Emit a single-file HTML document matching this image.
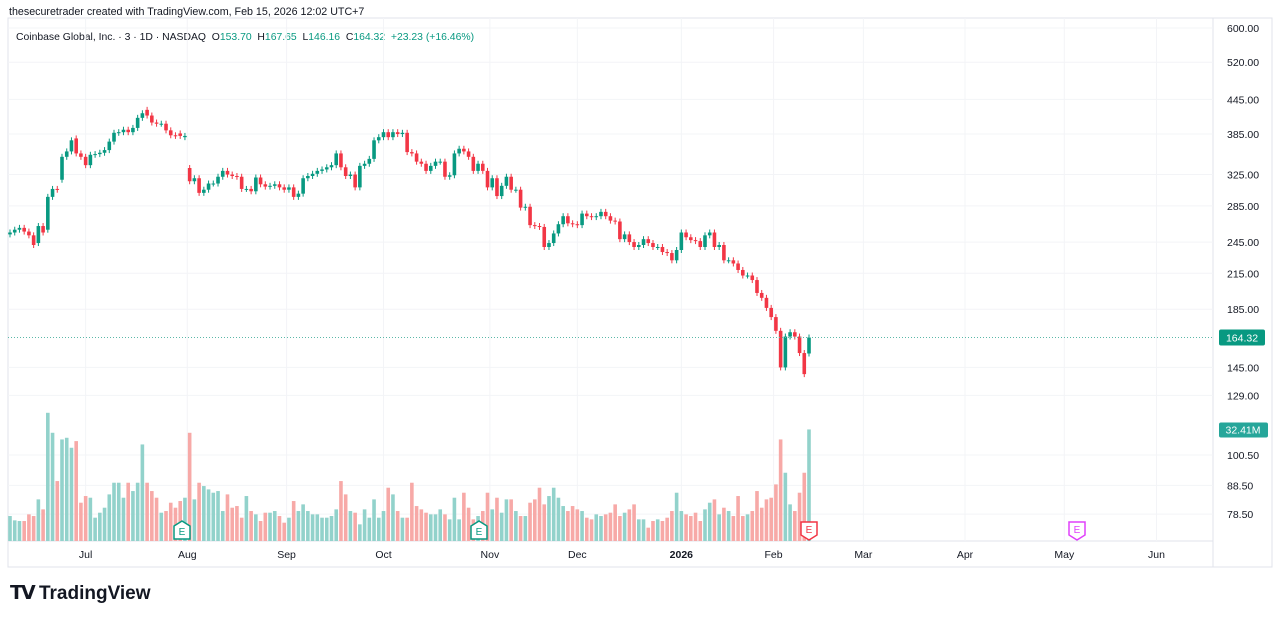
<!DOCTYPE html>
<html><head><meta charset="utf-8"><style>
body{margin:0;background:#fff;font-family:"Liberation Sans",sans-serif;}
#wrap{position:relative;width:1280px;height:620px;overflow:hidden;background:#fff}
.t{position:absolute;white-space:nowrap}
</style></head><body>
<div id="wrap">
<div class="t" style="left:9px;top:6px;font-size:10.7px;color:#131722">thesecuretrader created with TradingView.com, Feb 15, 2026 12:02 UTC+7</div>
<div class="t" style="left:16px;top:32px;font-size:10.4px;color:#131722">Coinbase Global, Inc. · 3 · 1D · NASDAQ&nbsp; O<span style="color:#089981">153.70</span>&nbsp; H<span style="color:#089981">167.65</span>&nbsp; L<span style="color:#089981">146.16</span>&nbsp; C<span style="color:#089981">164.32&nbsp; +23.23 (+16.46%)</span></div>
<svg id="svg" width="1280" height="620" style="position:absolute;left:0;top:0;z-index:-0"></svg>
<div class="t" style="left:10px;top:582px;font-size:19px;font-weight:bold;color:#131722"><span style="letter-spacing:-2px">𝗧𝗩</span> TradingView</div>
</div>
<script>
const closes=[255,258,260,256,252,242,262,255,296,306,305,350,358,375,355,350,338,353,354,356,360,373,387,388,392,388,395,412,420,416,404,402,402,391,383,382,382,382,
316,320,301,305,313,313,322,330,325,323,322,306,306,303,321,312,309,310,312,308,305,308,296,300,320,323,
326,330,332,335,338,
355,335,323,325,308,337,340,347,375,380,388,380,388,
385,387,357,355,343,340,330,337,343,343,322,324,355,362,358,350,330,340,330,308,320,297,310,322,305,305,283,284,263,262,261,240,244,254,264,273,265,264,263,276,273,272,273,278,273,268,267,248,253,245,240,242,248,244,240,240,235,234,227,237,255,250,247,246,240,252,255,240,242,227,227,224,218,213,213,209,198,194,186,179,169,145,165,168,165,154,141,164.32];
const opens=[253,255,258,260,256,252,244,262,258,296,306,318,350,358,378,355,350,338,353,354,356,360,373,387,388,392,388,395,412,426,416,404,402,402,391,383,386,380,
334,316,320,301,305,313,313,322,330,325,323,322,306,306,303,321,312,309,310,312,308,305,308,296,300,320,
323,326,330,332,335,
338,355,335,323,325,308,337,340,347,375,380,388,380,
388,385,387,357,355,343,340,330,337,343,343,322,324,355,362,358,350,330,340,330,308,320,297,310,322,305,305,283,284,263,262,261,240,244,254,264,273,265,264,263,276,273,272,273,278,273,268,267,248,253,245,240,242,248,244,240,240,235,234,227,237,255,250,247,246,240,252,255,240,242,227,227,224,218,213,213,209,198,194,186,179,169,145,165,168,165,154,153.7];
const volumes=[7.5,6.2,6,6,8,7.5,12.5,9.5,38.5,32.5,18,30.5,31,28,30,11.5,13.5,13,7,8.5,10,14,17.5,17.5,13,17.5,15,17.5,29,17.5,15,13,8.5,9,11.5,10,12,13,32.5,12.5,17.5,16.5,15.5,14.5,15,9,14,10,10.5,7,13.5,9,8,6,8.5,8.5,9,7.5,5.5,7,12,9,11,9,8,8,7,7,7.5,9.5,18,14,9,8.5,5,9.5,7,12.5,7,9,16,14,9,
7,7,17.5,10.5,9.5,8.5,8,8,9.5,8,6.5,13,6.5,14.5,10,6.5,7.5,9,14.5,9.5,13,8.5,12.5,12.5,9,7.5,7.5,11.5,12.5,16,11,13.5,16,13,10.5,9,10.5,9.5,9,7,6.5,8,7.5,8,8.5,11,7.5,8.5,9.5,11,6.5,6.5,4,6,6.5,6,7,9,14.5,9,8,7.5,8.5,6,9.5,11.5,12.5,8,10,9,7.5,13.5,7.5,8,9,15,10,12.5,13,17,30.5,20.5,11,9,14.5,20.5,33.5];
const priceTicks=[600,520,445,385,325,285,245,215,185,145,129,100.5,88.5,78.5];
const monthLabels=["Jul","Aug","Sep","Oct","Nov","Dec","2026","Feb","Mar","Apr","May","Jun"];
const monthBars=[16,37.5,58.5,79,101.5,120,142,161.5,180.5,202,223,242.5];

const NS="http://www.w3.org/2000/svg",svg=document.getElementById('svg');
const X0=10,STEP=(809-10)/169;
const xs=i=>X0+i*STEP;
const ys=p=>28+239*(Math.log(600)-Math.log(p));
const vy=v=>541-v*3.33;
function mk(t,a,parent){const e=document.createElementNS(NS,t);for(const k in a)e.setAttribute(k,a[k]);(parent||svg).appendChild(e);return e;}
mk('rect',{x:8,y:18,width:1264,height:549,fill:'none',stroke:'#e0e3eb'});
mk('line',{x1:1213,y1:18,x2:1213,y2:567,stroke:'#e0e3eb'});
mk('line',{x1:8,y1:541,x2:1213,y2:541,stroke:'#e0e3eb'});
priceTicks.forEach(p=>{
 const g=mk('line',{x1:8,x2:1213,y1:ys(p),y2:ys(p),stroke:'#f3f4f7'});
 
 const t=mk('text',{x:1227,y:ys(p)+4,'font-size':10.5,fill:'#131722','font-family':'Liberation Sans'});
 t.textContent=p.toFixed(2);
 
});
monthLabels.forEach((m,k)=>{
 const x=xs(monthBars[k]);
 const g=mk('line',{x1:x,x2:x,y1:18,y2:541,stroke:'#f3f4f7'});
 
 const t=mk('text',{x:x,y:558,'font-size':10.5,fill:'#131722','text-anchor':'middle','font-weight':m==='2026'?'bold':'normal','font-family':'Liberation Sans'});
 t.textContent=m;
 
});
volumes.forEach((v,i)=>{
 const up=closes[i]>=opens[i];
 const r=mk('rect',{x:xs(i)-1.8,y:vy(v),width:3.6,height:541-vy(v),fill:up?'#92d2cb':'#f7a9a7'});
 
});
closes.forEach((c,i)=>{
 const o=opens[i],up=c>=o,col=up?'#089981':'#f23645';
 const top=ys(Math.max(o,c)),bot=ys(Math.min(o,c));
 const w=mk('line',{x1:xs(i),x2:xs(i),y1:top-3,y2:bot+3,stroke:col,'stroke-width':1});
 
 const b=mk('rect',{x:xs(i)-1.8,y:top,width:3.6,height:Math.max(1,bot-top),fill:col});
 
});
const lp=closes[closes.length-1],ly=ys(lp);
const pl=mk('line',{x1:8,x2:1213,y1:ly,y2:ly,stroke:'#5bb8a8','stroke-dasharray':'1 2','stroke-width':1});

const lb=mk('rect',{x:1219,y:ly-8,width:46,height:16,rx:2,fill:'#089981'});

const lt=mk('text',{x:1242,y:ly+4,'font-size':10.5,fill:'#fff','text-anchor':'middle','font-family':'Liberation Sans'});lt.textContent=lp.toFixed(2);
const lvv=volumes[volumes.length-1],vyy=vy(lvv);
const vb=mk('rect',{x:1219,y:vyy-7,width:49,height:15,rx:2,fill:'#26a69a'});

const vt=mk('text',{x:1243,y:vyy+4,'font-size':10.5,fill:'#fff','text-anchor':'middle','font-family':'Liberation Sans'});vt.textContent='32.41M';
[[182,'#089981',true],[479,'#089981',true],[809,'#f23645',false],[1077,'#e040fb',false]].forEach(([x,c,upm])=>{
 const g=mk('g',{});
 
 const pts=upm?`${x-8},526 ${x},521 ${x+8},526 ${x+8},539 ${x-8},539`:`${x-8},522 ${x+8},522 ${x+8},535 ${x},540 ${x-8},535`;
 mk('polygon',{points:pts,fill:'#fff',stroke:c,'stroke-width':1.5},g);
 const t=mk('text',{x:x,y:upm?535:533,'font-size':10,fill:c,'text-anchor':'middle','font-family':'Liberation Sans'},g);t.textContent='E';
});
</script>
</body></html>
